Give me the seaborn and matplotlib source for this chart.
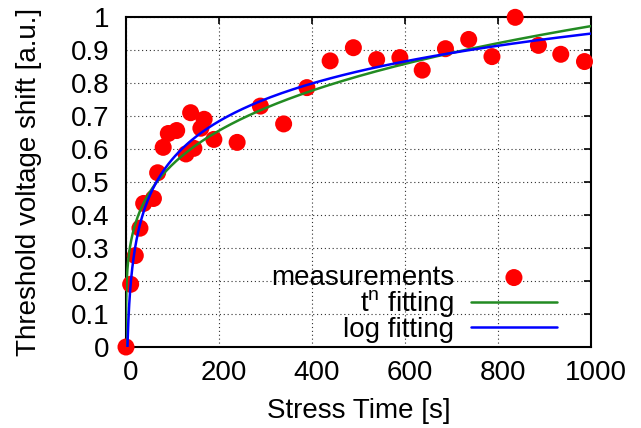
import numpy as np
import pandas as pd
import matplotlib
matplotlib.use("Agg")
import matplotlib.pyplot as plt
import matplotlib.transforms as mtransforms
import seaborn as sns
from matplotlib.patches import Rectangle

# ---- data ----
stress_time = [0, 10, 20, 30, 38, 59, 68, 80, 91, 109, 129, 139, 146, 161, 168,
               189, 239, 289, 339, 389, 439, 489, 539, 589, 637, 687, 737, 787,
               837, 887, 935, 986]
vth_shift = [0.0, 0.19, 0.277, 0.36, 0.435, 0.45, 0.528, 0.605, 0.647, 0.656,
             0.585, 0.71, 0.602, 0.663, 0.69, 0.629, 0.62, 0.73, 0.676, 0.786,
             0.867, 0.907, 0.871, 0.877, 0.839, 0.904, 0.932, 0.88, 0.999,
             0.914, 0.887, 0.865]

# fit parameters
tn_A, tn_n = 0.179, 0.245         # y = A * t^n
log_a, log_b = -0.19, 0.165       # y = a + b * ln(t)

x_ticks = [0, 200, 400, 600, 800, 1000]
y_ticks = [0, 0.1, 0.2, 0.3, 0.4, 0.5, 0.6, 0.7, 0.8, 0.9, 1]

labels = ["measurements", r"t$^{\mathregular{n}}$ fitting", "log fitting"]

# ---- build frames ----
meas = pd.DataFrame({"t": stress_time, "y": vth_shift})
t_fit = np.concatenate([[0.0], np.geomspace(0.01, 1000, 800)])
tn_df = pd.DataFrame({"t": t_fit, "y": tn_A * t_fit ** tn_n})
t_log = t_fit[1:]
log_df = pd.DataFrame({"t": t_log, "y": log_a + log_b * np.log(t_log)})

sns.set_theme(style="white")
plt.rcParams["font.family"] = ["Liberation Sans", "DejaVu Sans"]
plt.rcParams["mathtext.fontset"] = "custom"
plt.rcParams["mathtext.rm"] = "Liberation Sans"
plt.rcParams["text.color"] = "black"

FS = 20

fig = plt.figure(figsize=(6.41, 4.28), dpi=100)
ax = fig.add_axes([126 / 641, 1 - 347 / 428, 465 / 641, 330 / 428])

sns.scatterplot(data=meas, x="t", y="y", ax=ax, color="#ff0000", s=150,
                edgecolor="none", linewidth=0, zorder=3, label=labels[0],
                clip_on=False)
sns.lineplot(data=tn_df, x="t", y="y", ax=ax, color="#228b22", lw=1.8,
             zorder=4, label=labels[1], estimator=None, sort=False)
sns.lineplot(data=log_df, x="t", y="y", ax=ax, color="#0000ff", lw=1.8,
             zorder=5, label=labels[2], estimator=None, sort=False)

ax.set_xlim(0, 1000)
ax.set_ylim(0, 1)
ax.set_xticks(x_ticks)
ax.set_yticks(y_ticks)
ax.set_xticklabels([f"{v:g}" for v in x_ticks])
ax.set_yticklabels([f"{v:g}" for v in y_ticks])
ax.set_axisbelow(False)
ax.grid(True, color="#303030", lw=0.8, linestyle=(0, (1, 2.5)), zorder=1)
for gl in ax.get_xgridlines() + ax.get_ygridlines():
    gl.set_zorder(1)

ax.tick_params(direction="in", length=5, width=1.2, top=True, right=True,
               labelsize=FS, colors="black", pad=12)
ax.tick_params(axis="x", pad=9)
shift = mtransforms.ScaledTranslation(5 / 100, 0, fig.dpi_scale_trans)
for lab in ax.get_xticklabels():
    lab.set_transform(lab.get_transform() + shift)
for sp in ax.spines.values():
    sp.set_color("black")
    sp.set_linewidth(1.5)
    sp.set_zorder(2.6)

# white key area hiding the grid, like the reference
ax.add_patch(Rectangle(((250 - 126) / 465, (347 - 338) / 330), (573 - 250) / 465,
                       (338 - 255) / 330, transform=ax.transAxes,
                       facecolor="white", edgecolor="none", zorder=2))

ax.set_xlabel("Stress Time [s]", fontsize=FS, color="black")
ax.set_ylabel("Threshold voltage shift [a.u.]", fontsize=FS, color="black")
ax.xaxis.set_label_coords(0.5, -(398 - 347) / 330)
ax.yaxis.set_label_coords(-(126 - 42) / 465, 0.5)

leg = ax.legend(loc="lower right", bbox_to_anchor=((557 - 126) / 465, (347 - 343) / 330),
                frameon=False, markerfirst=False, fontsize=FS, handlelength=3.1,
                handletextpad=0.6, labelspacing=-0.1, borderpad=0,
                borderaxespad=0, scatterpoints=1)
for txt in leg.get_texts():
    txt.set_color("black")
leg.set_zorder(7)

fig.savefig("out.png", dpi=100)
